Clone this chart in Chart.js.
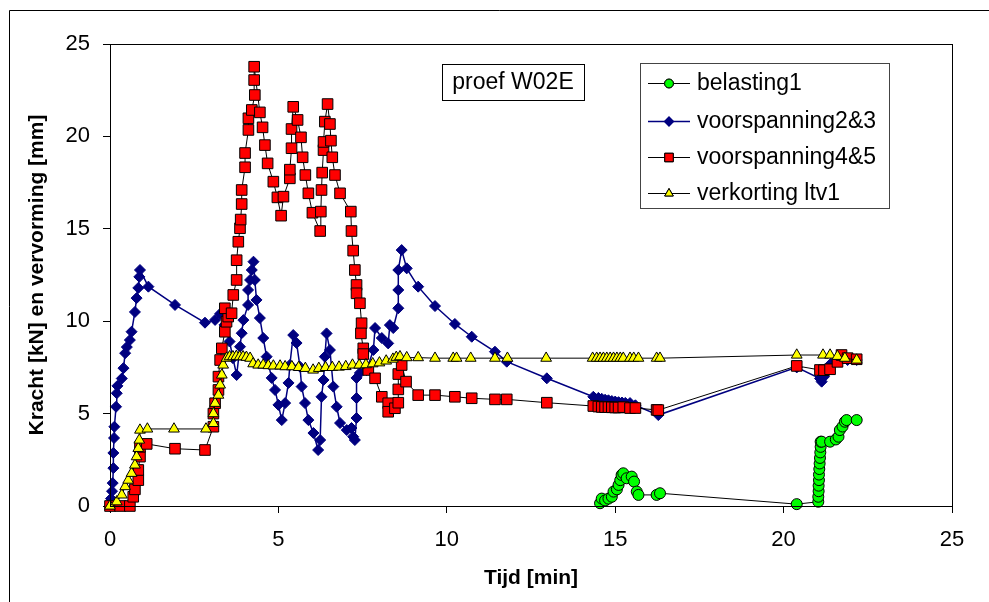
<!DOCTYPE html>
<html>
<head>
<meta charset="utf-8">
<script src="https://cdn.jsdelivr.net/npm/chart.js@4.4.1/dist/chart.umd.min.js"></script>
<style>
  html, body { margin: 0; padding: 0; background: #fff; }
  #wrap { width: 989px; height: 602px; position: relative; }
</style>
</head>
<body>
<div id="wrap"><canvas id="proefChart" width="989" height="602"></canvas></div>
<script>
// Tijd [min] en waarden per reeks
const tBelasting = [14.55, 14.6, 14.7, 14.8, 14.9, 14.95, 15.05, 15.1, 15.15, 15.19, 15.24, 15.34, 15.49, 15.56, 15.64, 15.69, 16.23, 16.33,
  20.39, 21.03, 21.03, 21.04, 21.04, 21.05, 21.05, 21.06, 21.07, 21.08, 21.09, 21.1, 21.1, 21.13, 21.38, 21.55, 21.63, 21.67, 21.75, 21.82, 21.87, 22.17];
const belasting1 = [0.15, 0.4, 0.3, 0.4, 0.5, 0.78, 0.9, 1.14, 1.4, 1.68, 1.77, 1.5, 1.59, 1.32, 0.78, 0.6, 0.6, 0.69,
  0.1, 0.23, 0.5, 0.8, 1.1, 1.4, 1.7, 2.0, 2.3, 2.6, 2.9, 3.2, 3.48, 3.48, 3.48, 3.6, 3.75, 4.11, 4.3, 4.56, 4.65, 4.65];

const tVoorsp23 = [0.0, 0.03, 0.06, 0.08, 0.1, 0.1, 0.12, 0.13, 0.18, 0.2, 0.22, 0.35, 0.4, 0.45, 0.5, 0.59, 0.64, 0.74, 0.79, 0.84, 0.87, 0.89,
  1.14, 1.93, 2.82, 3.12, 3.27, 3.4, 3.55, 3.65, 3.76, 3.86, 3.91, 3.96, 4.1, 4.1, 4.16, 4.21, 4.26, 4.3, 4.35, 4.45, 4.55, 4.65, 4.8, 4.9,
  5.0, 5.1, 5.2, 5.3, 5.34, 5.44, 5.54, 5.64, 5.69, 5.79, 5.89, 6.04, 6.18, 6.24, 6.28, 6.34, 6.38, 6.43, 6.53, 6.63, 6.73, 6.83, 7.03,
  7.17, 7.22, 7.27, 7.32, 7.32, 7.32, 7.42, 7.62, 7.82, 7.87, 8.07, 8.26, 8.31, 8.41, 8.56, 8.56, 8.56, 8.66, 8.81, 9.15, 9.65, 10.24,
  10.74, 11.43, 11.78, 12.97, 14.35, 14.5, 14.6, 14.7, 14.8, 14.9, 15.0, 15.1, 15.2, 15.3, 15.44, 15.6, 16.28, 20.39, 21.08, 21.13,
  21.2, 21.4, 21.6, 21.72, 21.9, 22.17];
const voorspanning23 = [0.0, 0.4, 0.8, 1.24, 2.05, 2.87, 3.68, 4.29, 5.37, 6.1, 6.5, 6.9, 7.46, 8.27, 8.6, 8.98, 9.43, 10.5, 11.25, 11.8, 12.4, 12.77,
  11.87, 10.88, 9.92, 10.07, 10.4, 9.8, 8.9, 8.0, 7.09, 8.62, 9.35, 10.06, 10.88, 11.69, 12.23, 12.77, 13.22, 12.23, 11.15, 10.17, 9.09, 8.08, 6.93, 6.28,
  5.47, 4.65, 5.57, 6.66, 7.63, 9.25, 8.82, 7.54, 6.46, 5.57, 4.65, 3.95, 3.03, 3.57, 5.91, 6.82, 8.08, 9.34, 8.44, 6.46, 5.37, 4.49, 4.11,
  4.22, 3.75, 3.57, 4.76, 5.84, 6.93, 7.2, 7.36, 8.44, 9.63, 9.09, 8.8, 9.79, 9.63, 10.7, 11.69, 12.77, 13.85, 12.86, 11.87, 10.82, 9.85,
  9.16, 8.35, 7.81, 6.91, 5.91, 5.85, 5.8, 5.75, 5.72, 5.68, 5.65, 5.62, 5.6, 5.58, 5.57, 5.45, 4.92, 7.5, 6.9, 6.73,
  7.0, 7.7, 7.9, 8.0, 7.9, 7.9];

const tVoorsp45 = [0.0, 0.3, 0.59, 0.69, 0.74, 0.84, 0.84, 0.89, 0.89, 1.09, 1.93, 2.82, 3.07, 3.07, 3.12, 3.22, 3.22, 3.27, 3.32, 3.41, 3.46,
  3.51, 3.41, 3.61, 3.66, 3.76, 3.76, 3.81, 3.86, 3.88, 3.91, 3.91, 4.01, 4.01, 4.11, 4.11, 4.21, 4.3, 4.28, 4.28, 4.45, 4.53, 4.6, 4.68,
  4.85, 4.97, 5.08, 5.15, 5.34, 5.34, 5.39, 5.39, 5.44, 5.57, 5.67, 5.72, 5.8, 5.89, 6.01, 6.24, 6.26, 6.28, 6.3, 6.34, 6.34, 6.38, 6.46,
  6.53, 6.56, 6.6, 6.68, 6.83, 7.15, 7.17, 7.22, 7.27, 7.32, 7.32, 7.42, 7.47, 7.45, 7.52, 7.52, 7.67, 7.87, 8.07, 8.26, 8.26, 8.46, 8.56,
  8.56, 8.56, 8.66, 8.79, 9.15, 9.65, 10.24, 10.74, 11.43, 11.78, 12.97, 14.35, 14.5, 14.6, 14.7, 14.8, 14.9, 15.0, 15.1, 15.24, 15.44,
  15.6, 16.23, 16.28, 20.39, 21.08, 21.2, 21.38, 21.6, 21.72, 21.9, 22.17];
const voorspanning45 = [0.0, 0.0, 0.0, 0.5, 0.9, 1.4, 1.95, 2.67, 3.2, 3.36, 3.1, 3.03, 4.29, 5.0, 5.56, 6.28, 7.0, 7.9, 8.53, 9.43, 9.97,
  10.25, 10.7, 10.43, 11.42, 12.23, 13.3, 14.3, 15.03, 15.5, 16.34, 17.1, 18.33, 19.1, 20.35, 20.98, 21.43, 22.24, 23.05, 23.77, 21.3, 20.49, 19.53, 18.54,
  17.55, 16.7, 15.71, 16.74, 17.73, 18.2, 19.36, 20.4, 21.6, 20.89, 19.95, 18.87, 17.91, 16.92, 15.87, 14.88, 15.93, 17.1, 18.04, 19.26, 19.7, 20.8, 21.75,
  20.67, 19.77, 18.87, 17.91, 16.92, 15.93, 14.88, 13.82, 12.77, 11.96, 11.51, 10.97, 9.89, 9.34, 8.53, 8.22, 7.36, 6.91, 5.91, 5.56, 5.1, 5.29, 5.59,
  6.31, 7.14, 7.63, 6.73, 6.0, 6.0, 5.91, 5.83, 5.77, 5.77, 5.59, 5.41, 5.38, 5.36, 5.35, 5.35, 5.34, 5.33, 5.33, 5.35, 5.3,
  5.3, 5.2, 5.19, 7.58, 7.36, 7.35, 7.4, 7.8, 8.17, 8.0, 7.94];

const tVerkorting = [0.0, 0.2, 0.35, 0.45, 0.54, 0.64, 0.74, 0.79, 0.84, 0.87, 0.89, 1.11, 1.9, 2.85, 3.07, 3.07, 3.12, 3.22, 3.27, 3.32, 3.36,
  3.46, 3.55, 3.65, 3.75, 3.85, 3.95, 4.05, 4.16, 4.25, 4.4, 4.55, 4.7, 4.85, 5.05, 5.2, 5.4, 5.6, 5.8, 6.03, 6.2, 6.4, 6.6, 6.8, 7.0,
  7.2, 7.4, 7.6, 7.8, 8.0, 8.2, 8.4, 8.5, 8.61, 8.81, 9.15, 9.65, 10.19, 10.29, 10.71, 11.43, 11.8, 12.95, 14.33, 14.45, 14.55, 14.65,
  14.75, 14.85, 14.95, 15.05, 15.15, 15.24, 15.44, 15.55, 15.69, 16.23, 16.33, 20.39, 21.17, 21.38, 21.6, 21.82, 22.17];
const verkortingLtv1 = [0.0, 0.23, 0.6, 1.05, 1.4, 1.77, 2.22, 2.67, 3.12, 3.57, 4.11, 4.17, 4.17, 4.17, 4.47, 5.0, 5.56, 6.0, 6.55, 7.09, 7.63,
  8.0, 8.08, 8.08, 8.1, 8.08, 8.08, 8.05, 8.0, 7.7, 7.63, 7.63, 7.6, 7.58, 7.58, 7.54, 7.54, 7.5, 7.45, 7.36, 7.45, 7.5, 7.5, 7.52, 7.55,
  7.63, 7.63, 7.65, 7.7, 7.75, 7.85, 7.95, 8.05, 8.08, 8.03, 8.03, 8.0, 8.0, 8.0, 8.0, 8.0, 8.0, 8.0, 8.0, 8.0, 8.0, 8.0,
  8.0, 8.0, 8.0, 8.0, 8.0, 8.0, 8.0, 8.0, 8.0, 8.0, 8.0, 8.17, 8.17, 8.17, 8.1, 8.0, 7.9];

const seriesLabels = ['belasting1', 'voorspanning2&3', 'voorspanning4&5', 'verkorting ltv1'];
const xTicks = [0, 5, 10, 15, 20, 25];
const yTicks = [0, 5, 10, 15, 20, 25];
const proefTitel = 'proef W02E';

const FONT = '"Liberation Sans", Arial, sans-serif';

function toPoints(ts, vals) {
    return ts.map((t, i) => ({ x: t, y: vals[i] }));
}

// outer frame of the chart area (Excel style)
const framePlugin = {
    id: 'frame',
    beforeDraw(chart) {
        const ctx = chart.ctx;
        ctx.save();
        ctx.fillStyle = '#fff';
        ctx.fillRect(0, 0, chart.width, chart.height);
        ctx.strokeStyle = '#000';
        ctx.lineWidth = 1;
        ctx.beginPath();
        ctx.moveTo(9.5, chart.height + 5);
        ctx.lineTo(9.5, 10.5);
        ctx.lineTo(chart.width + 5, 10.5);
        ctx.stroke();
        ctx.restore();
    },
    afterDraw(chart) {
        const { ctx, chartArea: a } = chart;
        ctx.save();
        ctx.strokeStyle = '#000';
        ctx.lineWidth = 1;
        ctx.strokeRect(a.left + 0.5, a.top + 0.5, a.right - a.left, a.bottom - a.top);

        // title box
        ctx.fillStyle = '#fff';
        ctx.fillRect(442, 64, 142, 36);
        ctx.strokeRect(442.5, 64.5, 142, 36);
        ctx.fillStyle = '#000';
        ctx.font = '23px ' + FONT;
        ctx.textAlign = 'center';
        ctx.textBaseline = 'middle';
        ctx.fillText(proefTitel, 513, 83);

        // legend box
        ctx.fillStyle = '#fff';
        ctx.fillRect(640, 63, 249, 145);
        ctx.strokeStyle = '#444';
        ctx.strokeRect(640.5, 63.5, 249, 145);
        const rows = [83, 121, 157, 193];
        chart.data.datasets.forEach((ds, i) => {
            const y = rows[i];
            ctx.strokeStyle = ds.borderColor;
            ctx.lineWidth = ds.borderWidth;
            ctx.beginPath();
            ctx.moveTo(648, y + 0.5);
            ctx.lineTo(690, y + 0.5);
            ctx.stroke();
            Chart.helpers.drawPoint(ctx, {
                pointStyle: ds.pointStyle,
                radius: ds.pointRadius * 0.8,
                borderWidth: 1,
                rotation: 0
            }, 669, y + 0.5);
            ctx.fillStyle = ds.pointBackgroundColor;
            ctx.strokeStyle = ds.pointBorderColor;
            ctx.lineWidth = 1;
            ctx.fill();
            ctx.stroke();
            ctx.fillStyle = '#000';
            ctx.font = '23px ' + FONT;
            ctx.textAlign = 'left';
            ctx.textBaseline = 'middle';
            ctx.fillText(ds.label, 697, y + 1);
        });
        ctx.restore();
    }
};

const ctx = document.getElementById('proefChart').getContext('2d');
const proefChart = new Chart(ctx, {
    type: 'line',
    data: {
        datasets: [
            {
                label: seriesLabels[0],
                data: toPoints(tBelasting, belasting1),
                borderColor: '#000', borderWidth: 1,
                pointStyle: 'circle', pointRadius: 5.5,
                pointBackgroundColor: '#00ff00', pointBorderColor: '#000', pointBorderWidth: 1,
                order: 4
            },
            {
                label: seriesLabels[1],
                data: toPoints(tVoorsp23, voorspanning23),
                borderColor: '#000080', borderWidth: 1.5,
                pointStyle: 'rectRot', pointRadius: 5.5,
                pointBackgroundColor: '#000080', pointBorderColor: '#000080', pointBorderWidth: 1,
                order: 3
            },
            {
                label: seriesLabels[2],
                data: toPoints(tVoorsp45, voorspanning45),
                borderColor: '#000', borderWidth: 1,
                pointStyle: 'rect', pointRadius: 7.5,
                pointBackgroundColor: '#ff0000', pointBorderColor: '#000', pointBorderWidth: 1,
                order: 2
            },
            {
                label: seriesLabels[3],
                data: toPoints(tVerkorting, verkortingLtv1),
                borderColor: '#000', borderWidth: 1,
                pointStyle: 'triangle', pointRadius: 6.2,
                pointBackgroundColor: '#ffff00', pointBorderColor: '#000', pointBorderWidth: 1,
                order: 1
            }
        ]
    },
    options: {
        responsive: false,
        animation: false,
        devicePixelRatio: 1,
        clip: false,
        elements: { line: { tension: 0, fill: false } },
        layout: { padding: { left: 0, top: 44, right: 37, bottom: 0 } },
        plugins: { legend: { display: false }, tooltip: { enabled: false } },
        scales: {
            x: {
                type: 'linear', min: 0, max: 25,
                afterFit: s => { s.height = 96; },
                afterBuildTicks: s => { s.ticks = xTicks.map(v => ({ value: v })); },
                ticks: { color: '#000', font: { family: FONT, size: 22 }, padding: 14 },
                grid: { drawOnChartArea: false, drawTicks: true, tickLength: 7, color: '#000' },
                border: { display: true, color: '#000', width: 1 },
                title: { display: true, text: 'Tijd [min]', color: '#000',
                         font: { family: FONT, size: 21, weight: 'bold' }, padding: { top: 0, bottom: 11 } }
            },
            y: {
                type: 'linear', min: 0, max: 25,
                afterFit: s => { s.width = 110; },
                afterBuildTicks: s => { s.ticks = yTicks.map(v => ({ value: v })); },
                ticks: { color: '#000', font: { family: FONT, size: 22 }, padding: 13 },
                grid: { drawOnChartArea: false, drawTicks: true, tickLength: 7, color: '#000' },
                border: { display: true, color: '#000', width: 1 },
                title: { display: true, text: 'Kracht [kN] en vervorming [mm]', color: '#000',
                         font: { family: FONT, size: 21, weight: 'bold' }, padding: { top: 25, bottom: 0 } }
            }
        }
    },
    plugins: [framePlugin]
});
</script>
</body>
</html>
